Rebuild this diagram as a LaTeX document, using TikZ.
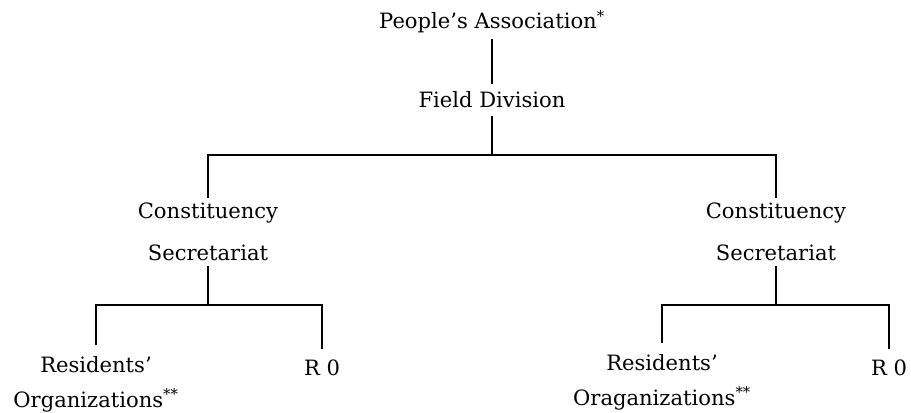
\documentclass[tikz,border=0pt]{standalone}
\usepackage{fontspec}
\setmainfont{DejaVu Serif}
\usepackage{tikz}
\usetikzlibrary{calc}

\begin{document}
\begin{tikzpicture}[x=0.03cm, y=-0.03cm, line width=0.9pt,
    unit/.style={font=\fontsize{18}{36}\selectfont, align=center, inner sep=4pt},
    branch/.style={font=\fontsize{18}{30}\selectfont, align=center, inner xsep=4pt, inner ysep=9pt}]
  \useasboundingbox (0,0) rectangle (911,412);
  \node[unit] (pa) at (492,22) {People's Association\textsuperscript{*}};
  \node[unit, inner ysep=6pt] (fd) at (492,100) {Field Division};
  \node[unit] (csl) at (208,232) {Constituency\\Secretariat};
  \node[unit] (csr) at (776,232) {Constituency\\Secretariat};
  \node[branch] (rol) at (96,384) {Residents'\\Organizations\textsuperscript{**}};
  \node[branch] (r0l) at (322,368) {R 0};
  \node[branch] (ror) at (662,382) {Residents'\\Oraganizations\textsuperscript{**}};
  \node[branch] (r0r) at (889,368) {R 0};
  \coordinate (top) at (492,155);
  \coordinate (midl) at (208,305);
  \coordinate (midr) at (776,305);
  \draw (pa) -- (fd);
  \draw (fd) -- (top);
  \draw (csl) |- (top) -| (csr);
  \draw (csl) -- (midl);
  \draw (rol) |- (midl) -| (r0l);
  \draw (csr) -- (midr);
  \draw (ror) |- (midr) -| (r0r);
\end{tikzpicture}
\end{document}
